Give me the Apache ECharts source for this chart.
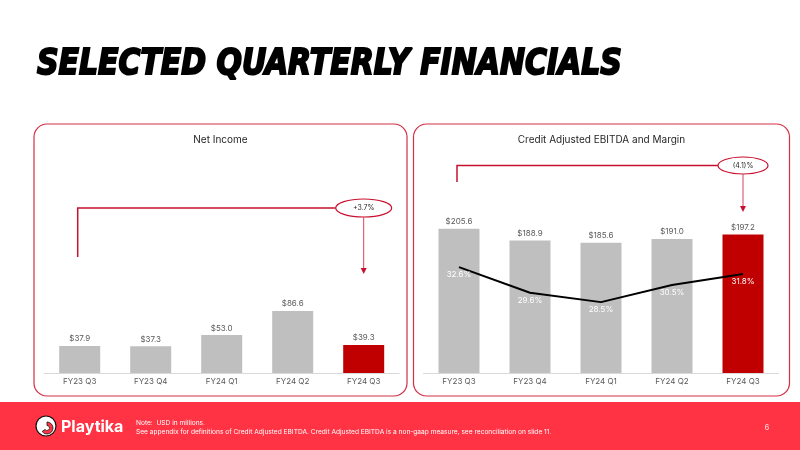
<!DOCTYPE html>
<html>
<head>
<meta charset="utf-8">
<script src="https://cdn.jsdelivr.net/npm/echarts@6/dist/echarts.min.js"></script>
<style>
  html, body { margin: 0; padding: 0; background: #fff; }
  #main { width: 800px; height: 450px; }
</style>
</head>
<body>
<div id="main"></div>
<script>
const categories = ["FY23 Q3", "FY23 Q4", "FY24 Q1", "FY24 Q2", "FY24 Q3"];
const netIncome = [37.9, 37.3, 53.0, 86.6, 39.3];
const ebitda = [205.6, 188.9, 185.6, 191.0, 197.2];
const margin = [32.6, 29.6, 28.5, 30.5, 31.8];
const netIncomeChange = "+3.7%";
const ebitdaChange = "(4.1)%";

const RED = "#C00000";
const GREY = "#BFBFBF";
const LINE_RED = "#C8102E";
const FONT = "Inter";

const chart = echarts.init(document.getElementById("main"), null, { renderer: "canvas" });

// last quarter highlighted red
const barColor = (p) => (p.dataIndex === categories.length - 1 ? RED : GREY);

const xAxisBase = (gridIndex) => ({
  type: "category",
  gridIndex,
  data: categories,
  axisLine: { lineStyle: { color: "#D9D9D9", width: 1 } },
  axisTick: { show: false },
  axisLabel: { color: "#595959", fontSize: 8, fontFamily: FONT, margin: 5 },
});

const barLabel = {
  show: true,
  position: "top",
  distance: 3,
  color: "#595959",
  fontSize: 8,
  fontFamily: FONT,
  formatter: (p) => "$" + p.value.toFixed(1),
};

chart.setOption({
  animation: false,
  grid: [
    { left: 44.2, width: 355, bottom: 77, height: 200 },
    { left: 423.5, width: 355, bottom: 77, height: 200 },
  ],
  xAxis: [xAxisBase(0), xAxisBase(1)],
  yAxis: [
    { type: "value", gridIndex: 0, min: 0, max: 279.7, show: false },
    { type: "value", gridIndex: 1, min: 0, max: 284.9, show: false },
    { type: "value", gridIndex: 1, min: 20.2, max: 43.62, show: false },
  ],
  series: [
    {
      name: "Net Income",
      type: "bar",
      xAxisIndex: 0,
      yAxisIndex: 0,
      barWidth: 41,
      data: netIncome,
      itemStyle: { color: barColor },
      label: barLabel,
    },
    {
      name: "Credit Adjusted EBITDA",
      type: "bar",
      xAxisIndex: 1,
      yAxisIndex: 1,
      barWidth: 41,
      data: ebitda,
      itemStyle: { color: barColor },
      label: barLabel,
    },
    {
      name: "Margin",
      type: "line",
      xAxisIndex: 1,
      yAxisIndex: 2,
      data: margin,
      symbol: "circle",
      symbolSize: 1,
      itemStyle: { color: "rgba(0,0,0,0)" },
      lineStyle: { color: "#000", width: 2 },
      label: {
        show: true,
        position: "bottom",
        distance: 3,
        color: "#fff",
        fontSize: 8,
        fontFamily: FONT,
        formatter: (p) => p.value.toFixed(1) + "%",
      },
      z: 5,
    },
  ],
});

// change annotation: bracket from first bar to an ellipse over last bar, arrow down
const annotation = (gridIndex, text, yLine, yStart, yArrow, ew, eh) => {
  const x0 = chart.convertToPixel({ xAxisIndex: gridIndex }, categories[0]) - 2;
  const x1 = chart.convertToPixel({ xAxisIndex: gridIndex }, categories[categories.length - 1]);
  return [
    {
      type: "polyline",
      shape: { points: [[x0, yStart], [x0, yLine], [x1 - ew / 2, yLine]] },
      style: { stroke: LINE_RED, lineWidth: 1.5, fill: null },
    },
    {
      type: "ellipse",
      shape: { cx: x1, cy: yLine, rx: ew / 2, ry: eh / 2 },
      style: { stroke: LINE_RED, lineWidth: 1.2, fill: "#fff" },
    },
    {
      type: "text",
      x: x1,
      y: yLine,
      style: { text, fill: "#262626", font: "7px " + FONT, align: "center", verticalAlign: "middle" },
    },
    {
      type: "line",
      shape: { x1, y1: yLine + eh / 2, x2: x1, y2: yArrow - 5 },
      style: { stroke: "#D4475C", lineWidth: 1 },
    },
    {
      type: "polygon",
      shape: { points: [[x1 - 3, yArrow - 6], [x1 + 3, yArrow - 6], [x1, yArrow]] },
      style: { fill: LINE_RED },
    },
  ];
};

const panel = (x, w, title) => [
  {
    type: "rect",
    shape: { x, y: 124, width: w, height: 272, r: 13 },
    style: { fill: "#fff", stroke: "#D42F45", lineWidth: 1.2 },
    z: -10,
  },
  {
    type: "text",
    x: x + w / 2,
    y: 140,
    style: { text: title, fill: "#262626", font: "10px " + FONT, align: "center", verticalAlign: "middle" },
  },
];

chart.setOption({
  graphic: [
    {
      type: "text",
      x: 37,
      y: 65,
      scaleX: 0.88,
      scaleY: 1.05,
      style: {
        text: "SELECTED QUARTERLY FINANCIALS",
        fill: "#000",
        stroke: "#000",
        lineWidth: 2,
        font: 'italic 900 34px "DejaVu Sans"',
        verticalAlign: "middle",
      },
    },
    ...panel(34, 373, "Net Income"),
    ...panel(413.5, 376, "Credit Adjusted EBITDA and Margin"),
    ...annotation(0, netIncomeChange, 208, 257, 274, 56, 18),
    ...annotation(1, ebitdaChange, 165.5, 182, 212, 50, 17),
    // footer
    {
      type: "rect",
      shape: { x: 0, y: 402, width: 800, height: 48 },
      style: { fill: "#FF3344" },
      z: 10,
    },
    {
      type: "circle",
      shape: { cx: 46, cy: 426, r: 10 },
      style: { fill: "#fff", stroke: "#111", lineWidth: 1.2 },
      z: 11,
    },
    {
      type: "sector",
      shape: { cx: 47, cy: 428, r: 6, r0: 2.5, startAngle: -Math.PI / 2, endAngle: Math.PI * 0.8 },
      style: { fill: "#FF3344", stroke: "#111", lineWidth: 0.8 },
      z: 12,
    },
    {
      type: "text",
      x: 61,
      y: 427,
      z: 11,
      style: { text: "Playtika", fill: "#fff", font: "bold 16px " + FONT, verticalAlign: "middle" },
    },
    {
      type: "text",
      x: 136,
      y: 423,
      z: 11,
      style: { text: "Note:  USD in millions.", fill: "#fff", font: "6.6px " + FONT, verticalAlign: "middle" },
    },
    {
      type: "text",
      x: 136,
      y: 432,
      z: 11,
      style: {
        text: "See appendix for definitions of Credit Adjusted EBITDA. Credit Adjusted EBITDA is a non-gaap measure, see reconciliation on slide 11.",
        fill: "#fff",
        font: "6.6px " + FONT,
        verticalAlign: "middle",
      },
    },
    {
      type: "text",
      x: 767,
      y: 428,
      z: 11,
      style: { text: "6", fill: "#fff", font: "7px " + FONT, align: "center", verticalAlign: "middle" },
    },
  ],
});
</script>
</body>
</html>
